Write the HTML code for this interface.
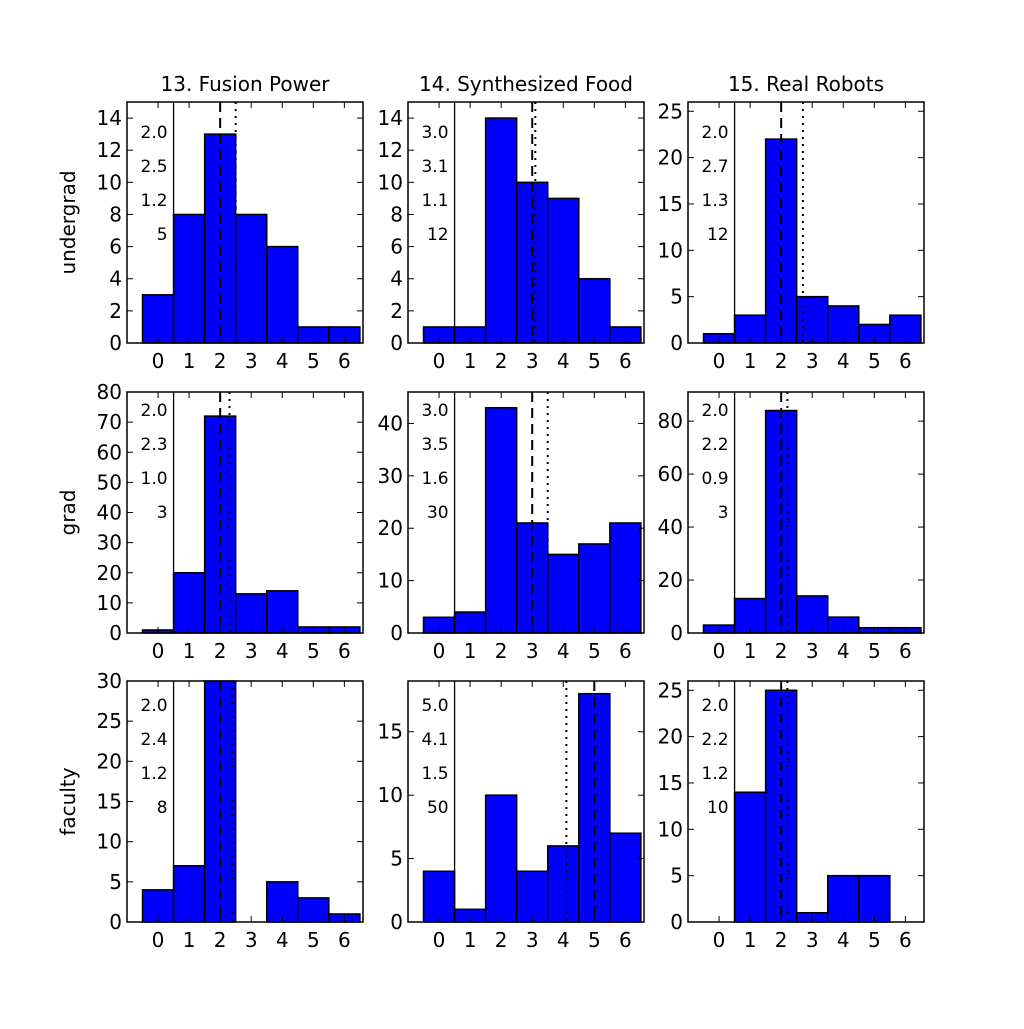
<!DOCTYPE html>
<html><head><meta charset="utf-8"><style>
body{margin:0;background:#fff;}
svg text{font-family:"DejaVu Sans","Liberation Sans",sans-serif;fill:#000;}
</style></head><body>
<svg id="fig" width="1024" height="1024" xmlns="http://www.w3.org/2000/svg"></svg>
<script>
const categories = [0,1,2,3,4,5,6];
const colTitles = ["13. Fusion Power","14. Synthesized Food","15. Real Robots"];
const rowTitles = ["undergrad","grad","faculty"];
const counts = [
 [[3,8,13,8,6,1,1],[1,1,14,10,9,4,1],[1,3,22,5,4,2,3]],
 [[1,20,72,13,14,2,2],[3,4,43,21,15,17,21],[3,13,84,14,6,2,2]],
 [[4,7,30,0,5,3,1],[4,1,10,4,6,18,7],[0,14,25,1,5,5,0]]
];
const medians = [[2,3,2],[2,3,2],[2,5,2]];
const means = [[2.5,3.1,2.7],[2.3,3.5,2.2],[2.4,4.1,2.2]];
const labels = [
 [["2.0","2.5","1.2","5"],["3.0","3.1","1.1","12"],["2.0","2.7","1.3","12"]],
 [["2.0","2.3","1.0","3"],["3.0","3.5","1.6","30"],["2.0","2.2","0.9","3"]],
 [["2.0","2.4","1.2","8"],["5.0","4.1","1.5","50"],["2.0","2.2","1.2","10"]]
];
const ymax = [[15,15,26],[80,46,91],[30,19,26]];
const ystep = [[2,2,5],[10,10,20],[5,5,5]];
const ytop = [[14,14,25],[80,40,80],[30,15,25]];

const NS="http://www.w3.org/2000/svg";
const svg=document.getElementById('fig');
function mk(tag,attrs,parent){const e=document.createElementNS(NS,tag);for(const k in attrs)e.setAttribute(k,attrs[k]);(parent||svg).appendChild(e);return e;}
const colX=[127,408,688], rowY=[102,392,681], W=236, H=241;
const xmin=-1.0, xmax=6.6;
const labelOff=[30,18,24];
for(let r=0;r<3;r++){for(let c=0;c<3;c++){
  const L=colX[c],T=rowY[r];
  const g=mk('g',{});
  
  
  const sx=v=>L+(v-xmin)/(xmax-xmin)*W;
  const sy=v=>T+H-v/ymax[r][c]*H;
  // bars
  categories.forEach((cat,i)=>{
    const v=counts[r][c][i];
    const b=mk('rect',{x:sx(cat-0.5),y:sy(v),width:sx(cat+0.5)-sx(cat-0.5),height:sy(0)-sy(v),fill:'#0000ff',stroke:'#000','stroke-width':1.5},g);
    
    
  });
  // lines
  const s=mk('line',{x1:sx(0.5),x2:sx(0.5),y1:T,y2:T+H,stroke:'#000','stroke-width':1.3},g);
  
  const md=mk('line',{x1:sx(medians[r][c]),x2:sx(medians[r][c]),y1:T,y2:T+H,stroke:'#000','stroke-width':2,'stroke-dasharray':'10,6'},g);
  
  const mn=mk('line',{x1:sx(means[r][c]),x2:sx(means[r][c]),y1:T,y2:T+H,stroke:'#000','stroke-width':2,'stroke-dasharray':'2,5'},g);
  
  // ticks
  categories.forEach(cat=>{
    const x=sx(cat);
    mk('line',{x1:x,x2:x,y1:T+H,y2:T+H-6,stroke:'#000'},g);
    mk('line',{x1:x,x2:x,y1:T,y2:T+6,stroke:'#000'},g);
    const t=mk('text',{x:x,y:T+H+25,'text-anchor':'middle','font-size':20},g);
    t.textContent=cat;
    
  });
  for(let v=0;v<=ytop[r][c];v+=ystep[r][c]){
    const y=sy(v);
    mk('line',{x1:L,x2:L+6,y1:y,y2:y,stroke:'#000'},g);
    mk('line',{x1:L+W,x2:L+W-6,y1:y,y2:y,stroke:'#000'},g);
    const t=mk('text',{x:L-5,y:y+7,'text-anchor':'end','font-size':20},g);
    t.textContent=v;
    
  }
  labels[r][c].forEach((s2,k)=>{
    const t=mk('text',{x:sx(0.5)-6,y:T+labelOff[r]+k*34+6,'text-anchor':'end','font-size':17},g);
    t.textContent=s2;
    
  });
  const fr=mk('rect',{x:L,y:T,width:W,height:H,fill:'none',stroke:'#000','stroke-width':1.5},g);
  
}}
colTitles.forEach((s,c)=>{const t=mk('text',{x:colX[c]+W/2,y:91,'text-anchor':'middle','font-size':20});t.textContent=s;
});
rowTitles.forEach((s,r)=>{const y=rowY[r]+H/2;const t=mk('text',{x:75,y:y,'text-anchor':'middle','font-size':20,transform:'rotate(-90 75 '+y+')'});t.textContent=s;
});
</script>
</body></html>
